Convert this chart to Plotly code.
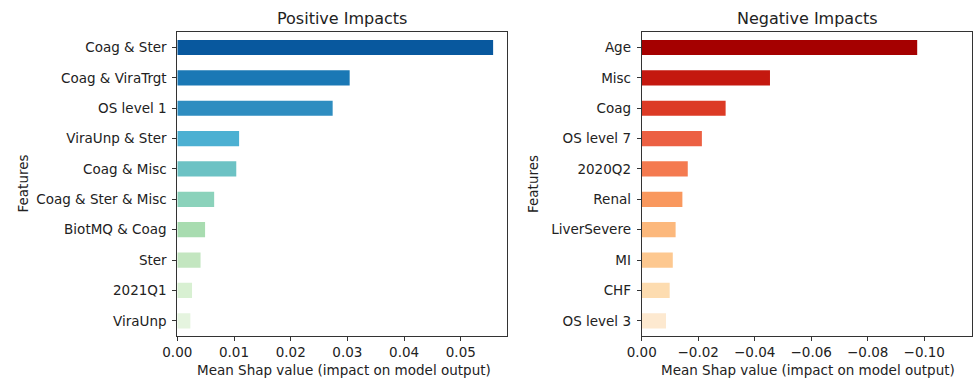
import plotly.graph_objects as go

# ---- data ----
pos_features = ["Coag & Ster", "Coag & ViraTrgt", "OS level 1", "ViraUnp & Ster", "Coag & Misc",
                "Coag & Ster & Misc", "BiotMQ & Coag", "Ster", "2021Q1", "ViraUnp"]
pos_values = [0.0557, 0.0304, 0.0274, 0.0109, 0.0104, 0.0065, 0.0049, 0.0041, 0.0026, 0.0023]
pos_colors = ["#08589e", "#1a78b5", "#2e8dc0", "#4cb0d2", "#6cc2c4",
              "#8bd2bb", "#a8dcb0", "#c3e6c0", "#d8f0d2", "#e5f4df"]

neg_features = ["Age", "Misc", "Coag", "OS level 7", "2020Q2", "Renal", "LiverSevere", "MI", "CHF", "OS level 3"]
neg_values = [-0.0975, -0.0454, -0.0297, -0.0213, -0.0163, -0.0144, -0.0120, -0.0110, -0.0099, -0.0086]
neg_colors = ["#a50000", "#c4180f", "#dc3a25", "#ec6043", "#f47a50",
              "#f9985e", "#fcb87c", "#fdc890", "#fddcb0", "#fde9d0"]

pos_ticks = [0.0, 0.01, 0.02, 0.03, 0.04, 0.05]
neg_ticks = [0.0, -0.02, -0.04, -0.06, -0.08, -0.10]

x_title = "Mean Shap value (impact on model output)"
y_title = "Features"

FONT = "DejaVu Sans"
TXT = "#222222"
FS = 13.5
W, H = 974, 379

fig = go.Figure()
fig.add_trace(go.Bar(x=pos_values, y=pos_features, orientation="h", width=0.5,
                     marker=dict(color=pos_colors, line=dict(width=0)),
                     xaxis="x", yaxis="y", showlegend=False))
fig.add_trace(go.Bar(x=neg_values, y=neg_features, orientation="h", width=0.5,
                     marker=dict(color=neg_colors, line=dict(width=0)),
                     xaxis="x2", yaxis="y2", showlegend=False))

def px_x(p):
    return p / W

def px_y(p):
    return 1 - p / H

L1, R1 = 177.3, 507.3
L2, R2 = 641.7, 972.3
TOP, BOT = 32.3, 336

ydom = [px_y(BOT), px_y(TOP)]
axis_common = dict(showgrid=False, zeroline=False, showline=True, linecolor="#333333",
                   linewidth=1, mirror=True, ticks="outside", ticklen=4, tickwidth=1,
                   tickcolor="#333333", automargin=False,
                   tickfont=dict(family=FONT, size=FS, color=TXT))

def ann(text, x, y, size=FS, angle=0):
    return dict(text=text, x=px_x(x), y=px_y(y), xref="paper", yref="paper",
                xanchor="center", yanchor="middle", showarrow=False, textangle=angle,
                font=dict(family=FONT, size=size, color=TXT))

fig.update_layout(
    width=W, height=H,
    margin=dict(l=0, r=0, t=0, b=0),
    paper_bgcolor="white", plot_bgcolor="white",
    font=dict(family=FONT, size=FS, color=TXT),
    xaxis=dict(domain=[px_x(L1), px_x(R1)], range=[0, 0.0582], tickvals=pos_ticks,
               tickformat=".2f", anchor="y", **axis_common),
    yaxis=dict(domain=ydom, range=[9.5, -0.5], type="category", categoryorder="array",
               categoryarray=pos_features, anchor="x", ticklabelstandoff=3, **axis_common),
    xaxis2=dict(domain=[px_x(L2), px_x(R2)], range=[0, -0.117], tickvals=neg_ticks,
                tickformat=".2f", anchor="y2", **axis_common),
    yaxis2=dict(domain=ydom, range=[9.5, -0.5], type="category", categoryorder="array",
                categoryarray=neg_features, anchor="x2", ticklabelstandoff=3, **axis_common),
    annotations=[
        ann("Positive Impacts", (L1 + R1) / 2, 18.5, size=16),
        ann("Negative Impacts", (L2 + R2) / 2, 18.5, size=16),
        ann(x_title, 343.5, 370),
        ann(x_title, 808, 370),
        ann(y_title, 22.5, 184, angle=-90),
        ann(y_title, 533, 184, angle=-90),
    ],
)

fig.write_html("out.html")
